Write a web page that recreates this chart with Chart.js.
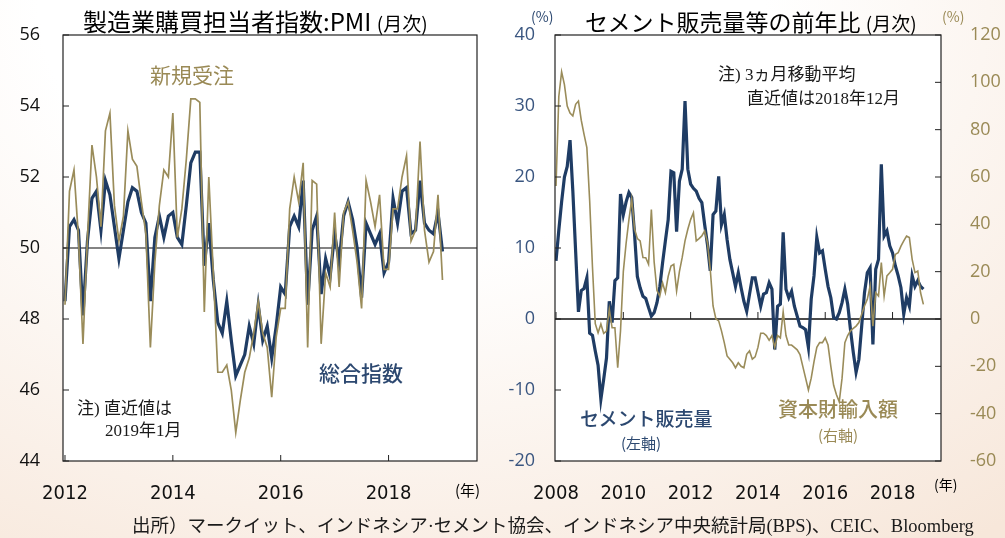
<!DOCTYPE html>
<html lang="ja">
<head>
<meta charset="utf-8">
<script src="https://cdn.jsdelivr.net/npm/chart.js@4.4.1/dist/chart.umd.min.js"></script>
<style>
  html, body { margin: 0; padding: 0; }
  body {
    width: 1005px; height: 538px; position: relative; overflow: hidden;
    background: radial-gradient(ellipse 95% 125% at 40% 0%, #ffffff 38%, #f7e7da 100%);
    font-family: "Noto Sans CJK JP", "Noto Sans", sans-serif;
  }
  canvas { position: absolute; top: 0; }
  .t { position: absolute; white-space: nowrap; line-height: 1; }
  .navy { color: #2c4870; }
  .olive { color: #9a8a56; }
  .note { font-family: "Liberation Serif", "Noto Sans CJK JP", serif; font-size: 17px; color: #1a1a1a; }
</style>
</head>
<body>

<canvas id="pmi-chart" width="500" height="538" style="left:0"></canvas>
<canvas id="cement-chart" width="505" height="538" style="left:500px"></canvas>

<!-- titles -->
<div class="t" style="left:83px; top:9px; font-size:24px;">製造業購買担当者指数:PMI <span style="font-size:19px">(月次)</span></div>
<div class="t" style="left:585px; top:10px; font-size:23px;">セメント販売量等の前年比 <span style="font-size:19px">(月次)</span></div>

<!-- left chart labels -->
<div class="t olive" style="left:150px; top:64px; font-size:21px;">新規受注</div>
<div class="t navy" style="left:319px; top:362px; font-size:21px; font-weight:500;">総合指数</div>
<div class="t note" style="left:77px; top:400px;">注) 直近値は</div>
<div class="t note" style="left:105px; top:422px;">2019年1月</div>
<div class="t" style="left:455px; top:482px; font-size:15px;">(年)</div>

<!-- right chart labels -->
<div class="t navy" style="left:531px; top:9px; font-size:14px;">(%)</div>
<div class="t olive" style="left:942px; top:9px; font-size:14px;">(%)</div>
<div class="t note" style="left:718px; top:66px;">注) 3ヵ月移動平均</div>
<div class="t note" style="left:747px; top:90px;">直近値は2018年12月</div>
<div class="t navy" style="left:580px; top:408px; font-size:19px; font-weight:500;">セメント販売量</div>
<div class="t navy" style="left:621px; top:435px; font-size:15px;">(左軸)</div>
<div class="t olive" style="left:778px; top:399px; font-size:20px; font-weight:500;">資本財輸入額</div>
<div class="t olive" style="left:818px; top:427px; font-size:15px;">(右軸)</div>
<div class="t" style="left:934px; top:477px; font-size:14px;">(年)</div>

<!-- source -->
<div class="t" style="left:132px; top:517px; font-size:18.5px; font-family:'Liberation Serif','Noto Sans CJK JP',serif; color:#1a1a1a;">出所）マークイット、インドネシア·セメント協会、インドネシア中央統計局(BPS)、CEIC、Bloomberg</div>

<script>
// PMI, monthly from 2012-01 to 2019-01
const pmiStart = 2012;
const pmiComposite = [
  48.5, 50.6, 50.8, 50.5, 48.1, 50.2, 51.4, 51.6, 50.5, 51.9, 51.5, 50.6,
  49.7, 50.5, 51.3, 51.7, 51.6, 51.0, 50.7, 48.5, 50.3, 50.9, 50.3, 50.9,
  51.0, 50.3, 50.1, 51.2, 52.4, 52.7, 52.7, 49.5, 50.7, 49.1, 47.9, 47.6,
  48.5, 47.4, 46.4, 46.7, 47.0, 47.8, 47.3, 48.4, 47.4, 47.8, 46.9, 47.8,
  48.9, 48.7, 50.6, 50.9, 50.6, 51.9, 48.4, 50.5, 50.9, 48.7, 49.7, 49.2,
  50.4, 49.6, 50.9, 51.3, 50.8, 50.0, 48.6, 50.7, 50.4, 50.1, 50.4, 49.3,
  49.6, 51.4, 50.7, 51.6, 51.7, 50.4, 50.5, 51.9, 50.7, 50.5, 50.4, 51.0,
  49.9
];
const pmiNewOrders = [
  48.4, 51.6, 52.2, 50.3, 47.3, 50.3, 52.9, 52.0, 50.6, 53.3, 53.8, 51.2,
  50.2, 50.9, 53.3, 52.5, 52.3, 51.3, 50.4, 47.2, 49.6, 51.2, 52.2, 52.0,
  53.8, 50.3, 51.1, 52.5, 54.2, 54.2, 54.1, 48.2, 52.0, 49.3, 46.5, 46.5,
  46.7, 46.0, 44.8, 45.7, 46.5, 46.9, 47.6, 48.5, 47.6, 47.2, 45.8, 47.5,
  48.3, 48.3, 51.1, 52.0, 51.3, 52.4, 47.2, 51.9, 51.8, 47.3, 49.3, 48.9,
  51.0, 48.9, 51.0, 51.3, 50.5, 49.6, 48.3, 51.9, 51.3, 50.6, 51.5, 49.4,
  49.4, 51.1, 51.1, 52.0, 52.6, 50.2, 50.5, 53.0, 50.5, 49.6, 49.9, 51.5,
  49.1
];
const pmiYearTicks = [2012, 2014, 2016, 2018];
const pmiAxis = [44, 56, 2];

// Cement sales (left axis, %) and capital goods imports (right axis, %), 2008-01 to 2018-12
const cementStart = 2008;
const cementSales = [
  8.2, 12.5, 16.5, 20.0, 21.5, 25.2, 18.0, 9.5, 1.0, 4.0, 4.3, 5.8,
  -2.0, -2.3, -4.5, -6.5, -11.3, -8.5, -5.5, 2.5, -0.5, 5.4, 5.8, 17.6,
  14.7, 16.5, 17.8, 17.1, 12.0, 6.0, 4.4, 3.2, 2.9, 1.6, 0.4, 0.9,
  2.3, 4.5, 7.9, 11.0, 14.0, 20.8, 20.6, 12.3, 19.4, 21.1, 30.7, 21.1,
  19.0, 18.4, 18.0, 17.0, 16.4, 13.3, 10.5, 6.8, 14.7, 15.2, 20.1, 13.3,
  14.7, 11.2, 8.4, 6.5, 4.6, 6.5, 4.4, 2.5, 1.1, 3.5, 5.8, 5.8,
  3.8, 1.8, 3.5, 3.7, 5.1, 4.2, -4.3, 1.8, 2.1, 12.2, 4.2, 3.0,
  3.9, 1.8, 0.4, -1.0, -1.2, -1.5, -4.0, 2.8, 6.1, 11.5, 9.3, 9.6,
  7.0, 4.6, 3.0, 0.2, 0.0, 0.9, 2.3, 4.2, 2.1, -1.5, -4.7, -7.5,
  -5.7, -1.0, 3.7, 6.5, 7.2, -3.6, 7.0, 8.4, 21.8, 11.7, 12.4, 10.3,
  9.3, 7.5, 6.1, 4.4, 0.7, 3.0, 1.8, 6.1, 4.6, 5.4, 4.6, 4.2
];
const capitalImports = [
  56.2, 94.0, 104.4, 99.0, 90.0, 87.0, 85.8, 90.7, 92.1, 84.0, 78.0, 72.4,
  50.0, 22.0, -2.0, -5.8, -2.1, -6.1, -5.1, 4.1, -3.7, -3.7, -20.6, -5.0,
  20.0, 32.0, 42.0, 50.6, 38.0, 34.0, 33.0, 26.0, 25.9, 23.1, 46.3, 24.0,
  12.0, 9.7, 15.3, 11.1, 18.0, 22.4, 23.1, 11.8, 20.0, 26.0, 33.0, 37.9,
  42.0, 44.9, 33.0, 34.0, 35.1, 37.2, 32.3, 21.0, 5.5, 0.1, -0.8, -5.0,
  -10.0, -15.6, -17.0, -18.5, -20.6, -18.5, -20.0, -20.6, -14.9, -13.5, -17.0, -16.0,
  -12.0, -6.0, -6.0, -7.0, -9.0, -7.0, -12.0, -7.0, -8.0, 3.0, -7.0, -11.0,
  -11.0, -12.0, -13.0, -15.0, -20.0, -25.0, -30.0, -25.0, -18.0, -12.0, -10.0, -10.0,
  -8.0, -11.0, -20.0, -28.0, -32.0, -35.0, -25.0, -10.0, -7.0, -5.0, -4.0, -3.0,
  -1.5, 2.0, 5.5, 8.3, 13.9, -3.0, 11.1, 9.7, 23.8, 9.7, 18.2, 19.5,
  21.0, 27.3, 28.0, 30.8, 33.0, 35.0, 34.4, 25.2, 19.6, 20.3, 11.1, 6.2
];
const cementYearTicks = [2008, 2010, 2012, 2014, 2016, 2018];
const cementLeftAxis = [-20, 40, 10];
const capitalRightAxis = [-60, 120, 20];

const NAVY = "#1f3c64";
const OLIVE = "#9a8c5a";
const NAVY_TEXT = "#3a5680";
const OLIVE_TEXT = "#9a8a56";
const NUM_FONT = { family: "'Open Sans', 'Noto Sans', sans-serif", size: 18 };
const YEAR_FONT = { family: "'Liberation Sans Narrow', 'DejaVu Sans Condensed', sans-serif", size: 20 };

// monthly series -> {x: decimal year, y}
function toPoints(startYear, values) {
  return values.map((v, i) => ({ x: startYear + i / 12, y: v }));
}

// white plot area and black frame
const plotFrame = {
  id: "plotFrame",
  beforeDraw(chart) {
    const { ctx, chartArea: a } = chart;
    ctx.save();
    ctx.fillStyle = "#ffffff";
    ctx.fillRect(a.left, a.top, a.width, a.height);
    ctx.restore();
  },
  afterDraw(chart) {
    const { ctx, chartArea: a } = chart;
    ctx.save();
    ctx.strokeStyle = "#222222";
    ctx.lineWidth = 1.2;
    ctx.strokeRect(a.left, a.top, a.width, a.height);
    ctx.restore();
  },
};

// horizontal reference line
function refLinePlugin(axisId, value, color, width) {
  return {
    id: "refLine",
    beforeDatasetsDraw(chart) {
      const { ctx, chartArea: a } = chart;
      const y = chart.scales[axisId].getPixelForValue(value);
      ctx.save();
      ctx.strokeStyle = color;
      ctx.lineWidth = width;
      ctx.beginPath();
      ctx.moveTo(a.left, y);
      ctx.lineTo(a.right, y);
      ctx.stroke();
      ctx.restore();
    },
  };
}

// short tick marks drawn inside the plot
function innerTicksPlugin(spec) {
  return {
    id: "innerTicks",
    afterDraw(chart) {
      const { ctx, chartArea: a } = chart;
      ctx.save();
      ctx.strokeStyle = "#222222";
      ctx.lineWidth = 1;
      ctx.beginPath();
      for (const s of spec) {
        const scale = chart.scales[s.axis];
        for (const t of scale.ticks) {
          const p = scale.getPixelForValue(t.value);
          if (s.side === "left") { ctx.moveTo(a.left, p); ctx.lineTo(a.left + 6, p); }
          if (s.side === "right") { ctx.moveTo(a.right, p); ctx.lineTo(a.right - 6, p); }
          if (s.side === "bottom") { ctx.moveTo(p, a.bottom); ctx.lineTo(p, a.bottom - 6); }
          if (s.side === "zero") {
            const y0 = chart.scales[s.zeroAxis].getPixelForValue(0);
            ctx.moveTo(p, y0); ctx.lineTo(p, y0 - 7);
          }
        }
      }
      ctx.stroke();
      ctx.restore();
    },
  };
}

function yearAxis(min, max, ticks) {
  return {
    type: "linear",
    min, max,
    afterBuildTicks: (scale) => { scale.ticks = ticks.map((v) => ({ value: v })); },
    afterFit: (scale) => { scale.height = 77; },
    grid: { display: false },
    border: { display: false },
    ticks: { color: "#111111", font: YEAR_FONT, padding: 13, maxRotation: 0, callback: (v) => String(v) },
  };
}

function valueAxis(position, range, color, width, padding) {
  return {
    type: "linear",
    position,
    min: range[0], max: range[1],
    afterFit: (scale) => { scale.width = width; },
    grid: { display: false },
    border: { display: false },
    ticks: { stepSize: range[2], color, font: NUM_FONT, padding, callback: (v) => String(v) },
  };
}

// Left chart: PMI
new Chart(document.getElementById("pmi-chart").getContext("2d"), {
  type: "line",
  data: {
    datasets: [
      {
        label: "新規受注",
        data: toPoints(pmiStart, pmiNewOrders),
        borderColor: OLIVE, borderWidth: 1.7, pointRadius: 0, tension: 0,
      },
      {
        label: "総合指数",
        data: toPoints(pmiStart, pmiComposite),
        borderColor: NAVY, borderWidth: 3.2, pointRadius: 0, tension: 0,
      },
    ],
  },
  options: {
    responsive: false,
    devicePixelRatio: 1,
    animation: false,
    layout: { padding: { top: 35, right: 23, left: 0, bottom: 0 } },
    plugins: { legend: { display: false }, tooltip: { enabled: false } },
    scales: {
      x: yearAxis(2011.963, 2019.64, pmiYearTicks),
      y: valueAxis("left", pmiAxis, "#111111", 63, 15),
    },
  },
  plugins: [
    plotFrame,
    refLinePlugin("y", 50, "#5a5a5a", 1.5),
    innerTicksPlugin([{ axis: "y", side: "left" }, { axis: "x", side: "bottom" }]),
  ],
});

// Right chart: cement sales & capital goods imports
new Chart(document.getElementById("cement-chart").getContext("2d"), {
  type: "line",
  data: {
    datasets: [
      {
        label: "資本財輸入額",
        data: toPoints(cementStart, capitalImports),
        yAxisID: "y2",
        borderColor: OLIVE, borderWidth: 1.6, pointRadius: 0, tension: 0,
      },
      {
        label: "セメント販売量",
        data: toPoints(cementStart, cementSales),
        yAxisID: "y",
        borderColor: NAVY, borderWidth: 3.2, pointRadius: 0, tension: 0,
      },
    ],
  },
  options: {
    responsive: false,
    devicePixelRatio: 1,
    animation: false,
    layout: { padding: { top: 35, right: 0, left: 0, bottom: 0 } },
    plugins: { legend: { display: false }, tooltip: { enabled: false } },
    scales: {
      x: yearAxis(2007.97, 2019.44, cementYearTicks),
      y: valueAxis("left", cementLeftAxis, NAVY_TEXT, 55, 12),
      y2: valueAxis("right", capitalRightAxis, OLIVE_TEXT, 64, 21),
    },
  },
  plugins: [
    plotFrame,
    refLinePlugin("y", 0, "#111111", 1.6),
    innerTicksPlugin([
      { axis: "y", side: "left" },
      { axis: "y2", side: "right" },
      { axis: "x", side: "zero", zeroAxis: "y" },
    ]),
  ],
});
</script>
</body>
</html>
